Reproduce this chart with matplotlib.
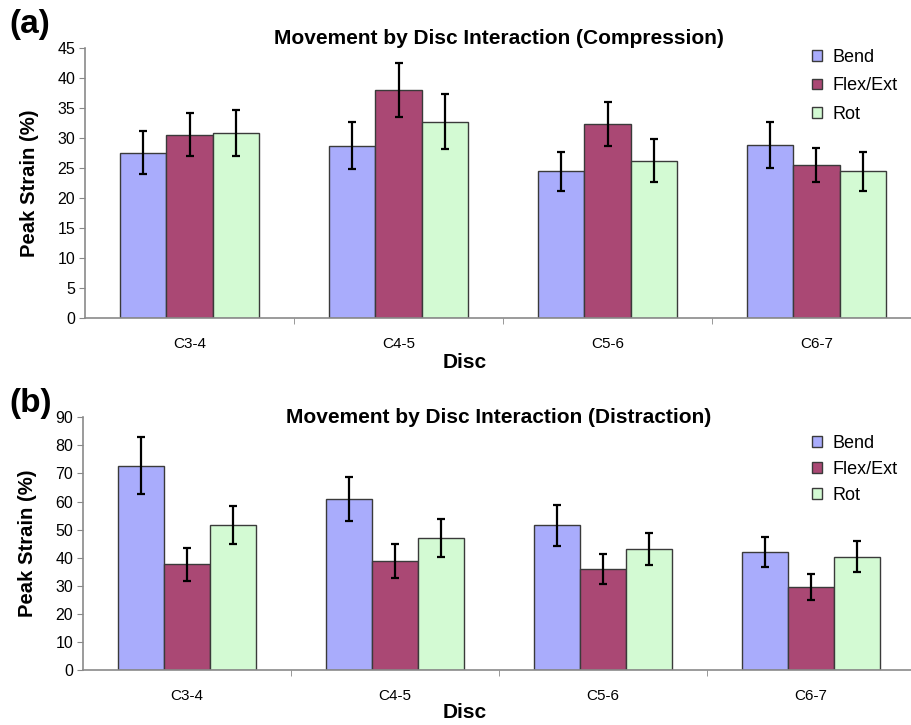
import numpy as np
import matplotlib.pyplot as plt

# plot setup
plt.rc('font', **{'family': 'sans-serif', 'sans-serif': ['Liberation Sans', 'DejaVu Sans']})

discs = ['C3-4', 'C4-5', 'C5-6', 'C6-7']
series = ['Bend', 'Flex/Ext', 'Rot']
colors = ['#a9acfc', '#aa4874', '#d3fad3']

# compression: mean peak strain and error per disc
comp_bend = [27.5, 28.7, 24.4, 28.8]
comp_flex = [30.5, 38.0, 32.3, 25.5]
comp_rot = [30.8, 32.7, 26.2, 24.4]
comp_bend_err = [3.6, 3.9, 3.2, 3.8]
comp_flex_err = [3.6, 4.5, 3.7, 2.8]
comp_rot_err = [3.9, 4.6, 3.6, 3.2]

# distraction
dist_bend = [72.8, 60.9, 51.5, 42.1]
dist_flex = [37.6, 38.8, 36.1, 29.6]
dist_rot = [51.5, 47.1, 43.1, 40.3]
dist_bend_err = [10.2, 7.9, 7.4, 5.4]
dist_flex_err = [6.0, 6.2, 5.3, 4.5]
dist_rot_err = [6.8, 6.7, 5.6, 5.5]

W, H = 911, 725
fig = plt.figure(figsize=(W / 100, H / 100), dpi=100)


def panel(rect, vals, errs, ymax, ystep, title, tag, title_y, tag_y, leg_y, leg_sp, disc_y):
    ax = fig.add_axes(rect)
    x = np.arange(len(discs))
    bw = 0.222
    for i, (v, e) in enumerate(zip(vals, errs)):
        ax.bar(x + (i - 1) * bw, v, bw, color=colors[i], edgecolor='#3a3a3a',
               linewidth=1.0, label=series[i], zorder=2)
        ax.errorbar(x + (i - 1) * bw, v, yerr=e, fmt='none', ecolor='black',
                    elinewidth=1.6, capsize=2.6, capthick=1.6, zorder=3)
    ax.set_xlim(-0.5, len(discs) - 0.5)
    ax.set_ylim(0, ymax)
    ax.set_yticks(np.arange(0, ymax + 1, ystep))
    ax.set_xticks(x)
    ax.set_xticklabels(discs, fontsize=11)
    ax.set_xticks(x[:-1] + 0.5, minor=True)
    ax.tick_params(axis='x', which='major', length=0, pad=14)
    ax.tick_params(axis='x', which='minor', length=4, color='#888888', direction='out')
    ax.tick_params(axis='y', length=4, color='#888888', labelsize=11.5, pad=3)
    for s in ['top', 'right']:
        ax.spines[s].set_visible(False)
    for s in ['left', 'bottom']:
        ax.spines[s].set_color('#8a8a8a')
        ax.spines[s].set_linewidth(1.2)
    ax.set_ylabel('Peak Strain (%)', fontsize=14.6, fontweight='bold')
    ax.yaxis.set_label_coords(-0.055, 0.5)
    fig.text(499 / W, 1 - title_y / H, title, fontsize=15, fontweight='bold',
             ha='center', va='center')
    fig.text(9 / W, 1 - tag_y / H, tag, fontsize=24, fontweight='bold',
             ha='left', va='center')
    fig.text(465 / W, 1 - disc_y / H, 'Disc', fontsize=15, fontweight='bold',
             ha='center', va='center')
    ax.legend(loc='upper left', bbox_to_anchor=(805 / W, 1 - leg_y / H),
              bbox_transform=fig.transFigure, frameon=False, fontsize=13,
              handlelength=0.55, handleheight=0.55, handletextpad=0.6,
              labelspacing=leg_sp, borderaxespad=0)
    return ax


panel([85 / W, 1 - 318 / H, 836 / W, 270.3 / H],
      [comp_bend, comp_flex, comp_rot], [comp_bend_err, comp_flex_err, comp_rot_err],
      45, 5, 'Movement by Disc Interaction (Compression)', '(a)', 38, 25, 42, 0.62, 363)
panel([83 / W, 1 - 670 / H, 832 / W, 252.7 / H],
      [dist_bend, dist_flex, dist_rot], [dist_bend_err, dist_flex_err, dist_rot_err],
      90, 10, 'Movement by Disc Interaction (Distraction)', '(b)', 418, 404, 428, 0.5, 713)

plt.savefig('out.png', dpi=100)
